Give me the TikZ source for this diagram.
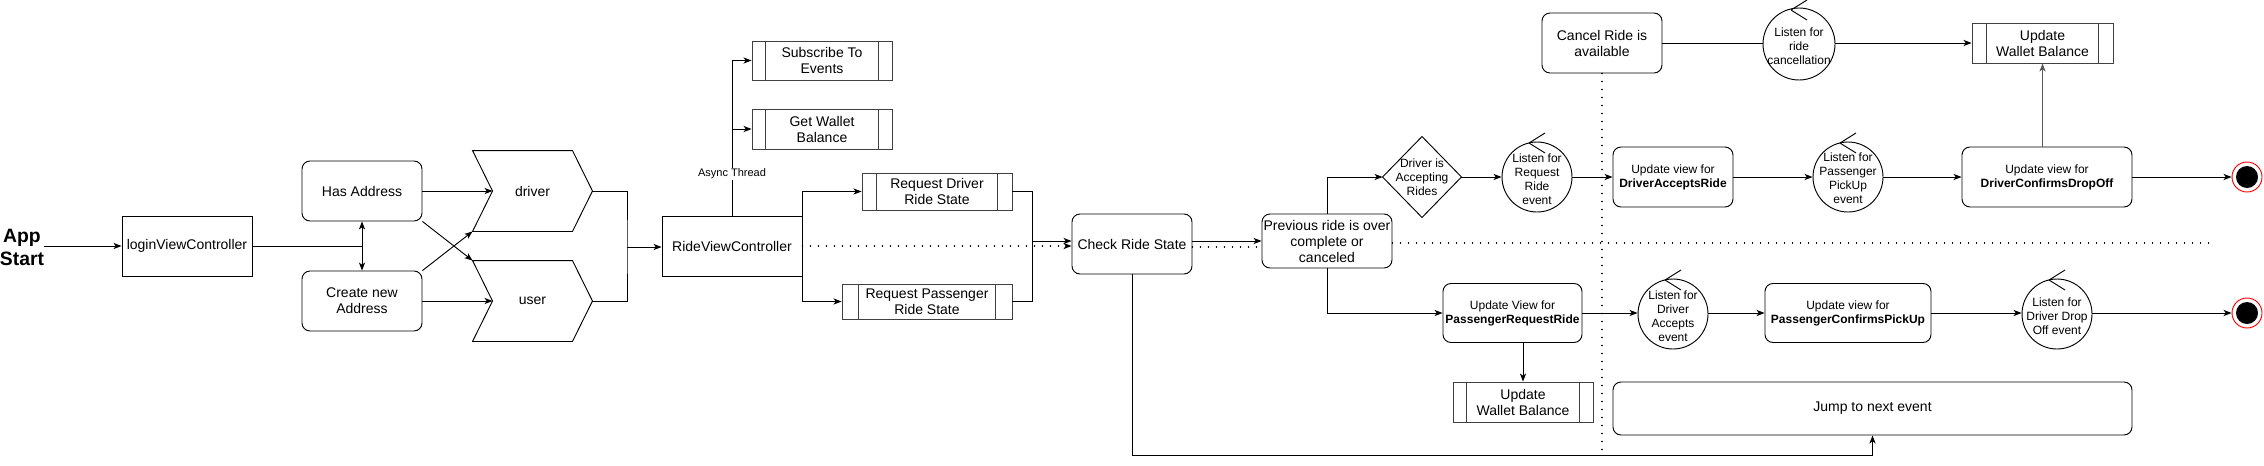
\documentclass[tikz,border=0pt]{standalone}
\usepackage{fontspec}
\setmainfont{Liberation Sans}
\usetikzlibrary{arrows.meta,shapes.geometric,calc}
\newcommand\fbig{\fontsize{10.5}{12}\selectfont}
\newcommand\fmid{\fontsize{9}{10.5}\selectfont}
\newcommand\ftiny{\fontsize{8.25}{10}\selectfont}
\newcommand\fhuge{\fontsize{14.5}{17.25}\selectfont\bfseries}
\tikzset{
  every node/.style={inner sep=0pt, align=center},
  sbox/.style 2 args={draw, minimum width=#1*0.75pt, minimum height=#2*0.75pt, font=\fbig},
  rbox/.style 2 args={sbox={#1}{#2}, rounded corners=6pt},
  pbox/.style 2 args={sbox={#1}{#2}, draw=black!75},
  ghost/.style 2 args={minimum width=#1*0.75pt, minimum height=#2*0.75pt},
  lcirc/.style={circle, draw, minimum size=70*0.75pt},
  ctext/.style={font=\fmid},
  endring/.style={circle, draw=red, fill=white, minimum size=30*0.75pt},
  dotline/.style={line width=1.1pt, dash pattern=on 0.1pt off 5.9pt, line cap=round},
  procline/.style={draw=black!75},
}
\newcommand\procbars[2]{%
  \draw[procline] ([xshift=#2*0.75pt]#1.north west) -- ([xshift=#2*0.75pt]#1.south west);
  \draw[procline] ([xshift=-#2*0.75pt]#1.north east) -- ([xshift=-#2*0.75pt]#1.south east);}
\newcommand\ctlicon[1]{%
  \draw ([shift={(-8,-34)}]#1.center) -- ++(16,-10) ([shift={(-8,-34)}]#1.center) -- ++(16,10);}
\newcommand\chevron[1]{%
  \draw (#1.north west) -- ([xshift=-20*0.75pt]#1.north east) -- (#1.east)
     -- ([xshift=-20*0.75pt]#1.south east) -- (#1.south west)
     -- ([xshift=20*0.75pt]#1.west) -- cycle;}
\begin{document}
\begin{tikzpicture}[x=0.75pt,y=-0.75pt, line width=0.7pt,
  >={Stealth[length=6pt,width=4.6pt,inset=1.6pt]}]
\fill[white] (0,0) rectangle (2264,465);
\useasboundingbox (0,0) rectangle (2264,465);

% ---------- nodes ----------
\node[font=\fhuge] (appstart) at (22,247) {App\\Start};
\node[sbox={130}{60}] (login) at (187,246) {loginViewController};
\node[rbox={120}{60}] (has) at (362,191) {Has Address};
\node[rbox={120}{60}] (create) at (362,301) {Create new\\Address};
\node[ghost={119}{80}, font=\fbig] (driver) at (532.5,191) {driver};
\node[ghost={119}{80}, font=\fbig] (user) at (532.5,301) {user};
\chevron{driver}
\chevron{user}
\coordinate (dnotch) at ([xshift=20*0.75pt]driver.west);
\coordinate (unotch) at ([xshift=20*0.75pt]user.west);

\node[sbox={140}{60}] (ridevc) at (732,246) {RideViewController};
\node[pbox={140}{39}] (subscribe) at (822,60.5) {Subscribe To\\Events};
\node[pbox={140}{40}] (getwallet) at (822,129) {Get Wallet\\Balance};
\node[pbox={150}{37}] (reqdriver) at (937,191.5) {Request Driver\\Ride State};
\node[pbox={170}{35}] (reqpass) at (927,301.5) {Request Passenger\\Ride State};
\procbars{subscribe}{14}
\procbars{getwallet}{14}
\procbars{reqdriver}{15}
\procbars{reqpass}{17}

\node[rbox={120}{60}] (check) at (1132,244) {Check Ride State};
\node[rbox={130}{54}] (prev) at (1327,241) {Previous ride is over\\complete or\\canceled};
\node[ghost={78}{80}, font=\fmid] (diamond) at (1422,177) {Driver is\\Accepting\\Rides};
\draw (diamond.north) -- (diamond.east) -- (diamond.south) -- (diamond.west) -- cycle;

\node[lcirc] (lreq) at (1537,177) {};
\node[ctext] (lreqt) at (1537,179) {Listen for\\Request\\Ride\\event};
\node[rbox={120}{60}, font=\fmid] (dar) at (1673,177) {Update view for\\\textbf{DriverAcceptsRide}};
\node[lcirc] (lpick) at (1848,177) {};
\node[ctext] (lpickt) at (1848,178) {Listen for\\Passenger\\PickUp\\event};
\node[rbox={170}{60}, font=\fmid] (dcdo) at (2047,177) {Update view for\\\textbf{DriverConfirmsDropOff}};
\node[endring] (end1) at (2247,177) {};
\fill (end1.center) circle (8.25pt);

\node[rbox={120}{60}] (cancel) at (1602,43) {Cancel Ride is\\available};
\node[circle, draw, minimum size=72*0.75pt] (lcancel) at (1799,44) {};
\node[ctext] (lcancelt) at (1799,46) {Listen for\\ride\\cancellation};
\node[pbox={141}{40}] (wallettop) at (2042.5,43) {Update\\Wallet Balance};
\procbars{wallettop}{15}

\node[rbox={139}{59}, font=\fmid] (prr) at (1512.5,313) {Update View for\\\textbf{PassengerRequestRide}};
\node[pbox={140}{40}] (walletbot) at (1523,402) {Update\\Wallet Balance};
\procbars{walletbot}{14}
\node[lcirc] (ldacc) at (1673,314) {};
\node[ctext] (ldacct) at (1673,316) {Listen for\\Driver\\Accepts\\event};
\node[rbox={166}{59}, font=\fmid] (pcpu) at (1848,313) {Update view for\\\textbf{PassengerConfirmsPickUp}};
\node[lcirc] (ldrop) at (2057,314) {};
\node[ctext] (ldropt) at (2057,316) {Listen for\\Driver Drop\\Off event};
\node[endring] (end2) at (2247,313) {};
\fill (end2.center) circle (8.25pt);
\node[rbox={519}{53}] (jump) at (1872.5,408.5) {Jump to next event};

\ctlicon{lreq}
\ctlicon{lpick}
\ctlicon{lcancel}
\ctlicon{ldacc}
\ctlicon{ldrop}

% ---------- coordinates ----------
\coordinate (merge1) at (627,247);
\coordinate (merge2) at (1032,241);
\coordinate (loopc) at (1132,455);
\coordinate (dotend) at (2210,243);
\coordinate (vdotend) at (1602,453);

% ---------- connectors ----------
\draw[->] (appstart.east |- login.west) -- (login.west);
\draw (login.east) -- (login.east -| has.south);
\draw[<->] (has.south) -- (create.north);
\draw[->] (has.east) -- (dnotch);
\draw[->] (create.east) -- (unotch);
\draw[->] (has.south east) -- (user.north west);
\draw[->] (create.north east) -- (driver.south west);
\draw (driver.east) -| (merge1) |- (user.east);
\draw[->] (merge1) -- (merge1 -| ridevc.west);

\draw[->] (ridevc.north) |- (subscribe.west);
\draw[->] (ridevc.north) |- (getwallet.west);
\node[font=\ftiny, fill=white, inner sep=1pt] (async) at (732,174) {Async Thread};
\draw[->] (ridevc.north east) |- (reqdriver.west);
\draw[->] (ridevc.south east) |- (reqpass.west);
\draw (reqdriver.east) -| (merge2) |- (reqpass.east);
\draw[->] (merge2) -- (merge2 -| check.west);
\draw[dotline, ->] (ridevc.east) -- (ridevc.east -| check.west);

\draw[->] (check.east |- prev.west) -- (prev.west);
\draw[dotline] ([yshift=-3*0.75pt]check.east) -- ([yshift=-3*0.75pt]check.east -| prev.west);
\draw[dotline] ([yshift=-2*0.75pt]prev.east) -- (dotend);
\draw[dotline] (cancel.south) -- (vdotend);

\draw[->] (prev.north) |- (diamond.west);
\draw[->] (prev.south) |- (prr.west);
\draw[->] (diamond.east) -- (lreq.west);
\draw[->] (lreq.east) -- (dar.west);
\draw[->] (dar.east) -- (lpick.west);
\draw[->] (lpick.east) -- (dcdo.west);
\draw[->] (dcdo.east) -- (end1.west);
\draw[->, draw=black!65] (dcdo.north -| wallettop.south) -- (wallettop.south);

\draw (cancel.east) -- (cancel.east -| lcancel.west);
\draw[->] (lcancel.east |- wallettop.west) -- (wallettop.west);

\draw[->] (prr.east) -- (prr.east -| ldacc.west);
\draw[->] (prr.south -| walletbot.north) -- (walletbot.north);
\draw[->] (ldacc.east |- pcpu.west) -- (pcpu.west);
\draw[->] (pcpu.east) -- (pcpu.east -| ldrop.west);
\draw[->] (ldrop.east |- end2.west) -- (end2.west);

\draw[->] (check.south) -- (loopc) -| (jump.south);
\end{tikzpicture}
\end{document}
